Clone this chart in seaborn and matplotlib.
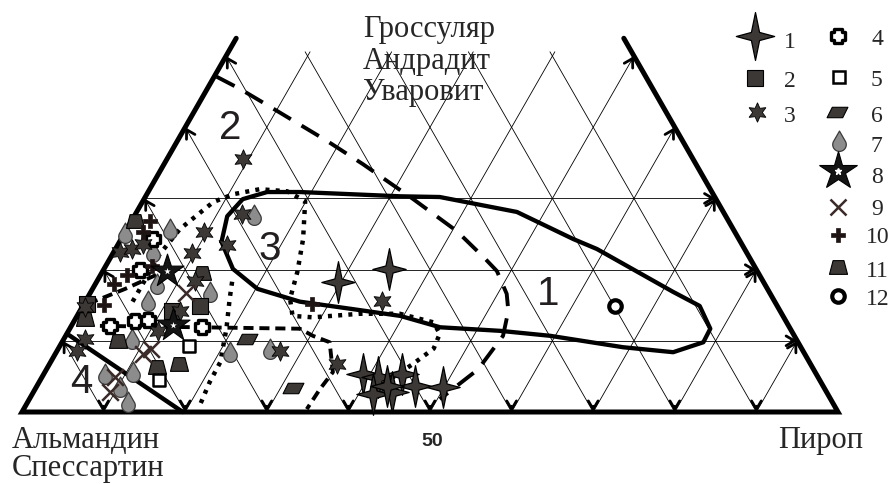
import numpy as np
import pandas as pd
import matplotlib
matplotlib.use("Agg")
import matplotlib.pyplot as plt
from matplotlib.path import Path
from matplotlib.markers import MarkerStyle
import seaborn as sns

# составы гранатов: пироп (%) и гроссуляр+андрадит+уваровит (%), остальное альмандин+спессартин
p1 = [29.6, 34.9, 39.1, 41.2, 43.9, 46.3, 43.9, 41.8, 49.8, 42.9]
g1 = [18.3, 20.1, 5.3, 4.9, 5.3, 3.7, 2.8, 2.5, 3.5, 3.7]
p2 = [0.4, 14.4, 11.3]
g2 = [15.2, 14.9, 14.2]
p3 = [9.3, 13.1, 9.7, 13.4, 9.7, 36.3, 35.2, 27.3, 2.6, 2.4, 0.3, 0.8, 2.0, 3.0, 11.0, 12.0, 12.3]
g3 = [35.5, 27.8, 25.3, 23.5, 22.3, 15.6, 6.7, 8.6, 10.3, 8.6, 14.8, 22.5, 22.9, 23.6, 11.4, 18.4, 14.2]
p4 = [3.9, 4.5, 4.7, 7.4, 9.0, 16.1]
g4 = [24.3, 19.9, 12.1, 12.8, 12.9, 11.9]
p5 = [15.8, 14.5]
g5 = [9.3, 4.5]
p6 = [22.4, 31.5]
g6 = [10.3, 3.4]
p7 = [0.1, 5.3, 14.6, 4.8, 7.5, 7.6, 14.6, 21.3, 26.0, 8.3, 7.5, 10.8, 10.3, 12.3]
g7 = [25.1, 25.7, 27.7, 22.5, 18.0, 15.6, 16.9, 8.4, 8.9, 10.3, 5.3, 5.6, 3.5, 1.4]
p8 = [7.9, 12.4]
g8 = [19.8, 12.2]
p9 = [11.8, 10.8, 11.3, 9.0, 9.4]
g9 = [16.7, 8.1, 8.9, 4.9, 2.8]
p10 = [2.3, 2.2, 3.3, 2.3, 2.5, 27.9, 5.7]
g10 = [26.8, 25.3, 19.2, 18.0, 15.0, 15.2, 20.5]
p11 = [0.4, 12.3, 1.2, 6.8, 13.4, 15.9]
g11 = [26.8, 19.5, 13.1, 10.0, 6.3, 6.7]
p12 = [65.2]
g12 = [14.9]

# контуры полей
c1_p = [12.5, 11.4, 12.1, 14.6, 18.6, 31.2, 36.1, 46.6, 55.4, 59.0, 71.3, 75.6, 78.5, 78.6,
        75.6, 69.1, 59.4, 52.9, 45.3, 39.6, 33.0, 26.3, 20.2, 15.8, 12.5]
c1_g = [23.9, 27.5, 29.9, 30.9, 30.9, 30.3, 30.2, 28.1, 24.3, 22.9, 16.9, 14.9, 11.7, 9.8,
        8.4, 9.1, 10.7, 11.4, 11.9, 13.5, 14.5, 15.5, 17.3, 20.1, 23.9]
c2_p = [0.3, 4.0, 10.1, 18.3, 24.4, 33.0, 40.6, 45.9, 48.3, 51.1, 52.5, 53.6, 52.9, 50.3]
c2_g = [47.1, 45.4, 42.3, 38.1, 34.8, 29.9, 25.4, 21.6, 19.8, 16.6, 14.2, 10.7, 6.0, 1.8]
c3_p = [5.8, 5.8, 6.5, 8.7, 10.6, 13.5, 17.0, 19.9, 22.3, 23.9, 24.9, 26.4, 29.0, 34.5,
        39.4, 44.1, 45.7, 46.0, 44.5, 42.8, 41.0]
c3_g = [15.5, 22.2, 25.7, 29.5, 30.6, 31.3, 31.0, 29.6, 24.3, 19.7, 15.9, 13.5, 13.3, 13.8,
        13.8, 12.6, 11.0, 8.9, 6.7, 4.6, 2.1]
c3b_p = [16.6, 17.5, 19.2, 20.8, 20.9, 21.3]
c3b_g = [18.3, 15.9, 11.7, 7.0, 4.2, 1.1]
c4_p = [0.0, 19.7]
c4_g = [11.0, 0.0]
c5_p = [3.5, 28.2, 30.3, 32.8, 35.3, 34.9, 34.7]
c5_g = [12.1, 11.7, 10.7, 9.8, 5.6, 3.2, 0.4]
c6_p = [0.5, 4.0, 7.6]
c6_g = [15.2, 17.3, 19.8]

grid_levels = [10, 20, 30, 40, 50, 60, 70, 80, 90]
hor_levels = [10, 20, 30]
top_cut = 50.6
edge_top = 52.5

sq3 = np.sqrt(3) / 2


def tern(p, g):
    p = np.asarray(p, float)
    g = np.asarray(g, float)
    return p + g / 2, g * sq3


def px(x, y):
    # пиксели картинки -> координаты осей
    return (x - 22) / 8.16, (413 - y) / 8.22


sns.set_style("white")
plt.rcParams['font.family'] = ['Liberation Serif', 'DejaVu Serif']

fig = plt.figure(figsize=(8.92, 4.85), dpi=100)
ax = fig.add_axes([0, 0, 1, 1])
ax.set_xlim(-22 / 8.16, (892 - 22) / 8.16)
ax.set_ylim((413 - 485) / 8.22, 413 / 8.22)
ax.axis('off')

# сетка
def arrow(x0, y0, x1, y1):
    ax.annotate("", xy=(x1, y1), xytext=(x0, y0),
                arrowprops=dict(arrowstyle="->,head_length=0.6,head_width=0.35",
                                lw=2.0, color='black', shrinkA=0, shrinkB=0),
                zorder=3)

for p in grid_levels:
    ge = 100 - p if p >= 50 else top_cut
    x, y = tern([p, p], [0, ge])
    ax.plot(x, y, color='black', lw=0.6, zorder=1)
    if p >= 50:
        xa, ya = tern([p, p], [ge - 0.6, ge])
        arrow(xa[0], ya[0], xa[1], ya[1])
    ge = p if p <= 50 else top_cut
    x, y = tern([p, p - ge], [0, ge])
    ax.plot(x, y, color='black', lw=0.6, zorder=1)
    if p <= 50:
        xa, ya = tern([0.6, 0], [ge - 0.6, ge])
        arrow(xa[0], ya[0], xa[1], ya[1])
    arrow(p, 0.7, p, 0)

for g in hor_levels:
    x, y = tern([0, 100 - g], [g, g])
    ax.plot(x, y, color='black', lw=0.6, zorder=1)
    arrow(x[1] - 0.7, y[1], x[1], y[1])

x, y = tern([0, 0, 100, 100 - edge_top], [edge_top, 0, 0, edge_top])
ax.plot(x, y, color='black', lw=3.6, solid_joinstyle='miter', zorder=3)

# контуры
def contour(pp, gg, lw, ls):
    x, y = tern(pp, gg)
    sns.lineplot(x=x, y=y, sort=False, estimator=None, color='black', lw=lw,
                 linestyle=ls, ax=ax, legend=False, zorder=4)

contour(c1_p, c1_g, 3.1, '-')
contour(c2_p, c2_g, 2.8, (0, (5.2, 3.2)))
contour(c3_p, c3_g, 3.2, (0, (0.9, 1.4)))
contour(c3b_p, c3b_g, 3.2, (0, (0.9, 1.4)))
contour(c4_p, c4_g, 3.2, '-')
contour(c5_p, c5_g, 2.8, (0, (2.6, 1.5)))
contour(c6_p, c6_g, 2.8, (0, (2.6, 1.5)))

# маркеры
star4 = Path([(0, 1), (0.17, 0.17), (0.8, 0), (0.17, -0.17), (0, -1), (-0.17, -0.17),
              (-0.8, 0), (-0.17, 0.17), (0, 1)], closed=True)
t = np.radians(np.linspace(35, -215, 40))
drop = Path([(0, 1)] + list(zip(0.65 * np.cos(t), -0.3 + 0.65 * np.sin(t))) + [(0, 1)], closed=True)
para = Path([(-0.5, -0.25), (0.25, -0.25), (0.5, 0.25), (-0.25, 0.25), (-0.5, -0.25)], closed=True)
trap = Path([(-0.5, -0.38), (0.5, -0.38), (0.3, 0.38), (-0.3, 0.38), (-0.5, -0.38)], closed=True)
a, b = 0.5, 0.26
flower = Path([(-b, -a), (b, -a), (b, -b), (a, -b), (a, b), (b, b), (b, a), (-b, a),
               (-b, b), (-a, b), (-a, -b), (-b, -b), (-b, -a)], closed=True)

dark = '#3c3836'
styles = {
    1: dict(marker=star4, ms=30, fc=dark, ec='black', lw=0.9),
    2: dict(marker='s', ms=11, fc=dark, ec='black', lw=0.8),
    3: dict(marker=(6, 1, 0), ms=14, fc=dark, ec='black', lw=0.6),
    4: dict(marker=flower, ms=10.5, fc='white', ec='black', lw=2.4),
    5: dict(marker='s', ms=8, fc='white', ec='black', lw=1.8),
    6: dict(marker=para, ms=15, fc=dark, ec='black', lw=0.8),
    7: dict(marker=drop, ms=15, fc='#8c8c8c', ec='#3a3a3a', lw=0.9),
    8: dict(marker='*', ms=25, fc='#141414', ec='black', lw=0.8),
    9: dict(marker='x', ms=12, fc='#3a2a28', ec='#3a2a28', lw=1.8),
    10: dict(marker='P', ms=10.5, fc='#1e1414', ec='#1e1414', lw=0.5),
    11: dict(marker=trap, ms=13, fc=dark, ec='black', lw=0.8),
    12: dict(marker='o', ms=9, fc='white', ec='black', lw=3.0),
}
groups = {1: (p1, g1), 2: (p2, g2), 3: (p3, g3), 4: (p4, g4), 5: (p5, g5), 6: (p6, g6),
          7: (p7, g7), 8: (p8, g8), 9: (p9, g9), 10: (p10, g10), 11: (p11, g11), 12: (p12, g12)}

for k in [7, 11, 2, 6, 5, 4, 3, 10, 9, 8, 1, 12]:
    x, y = tern(*groups[k])
    st = styles[k]
    if st['marker'] == 'x':
        sns.scatterplot(x=x, y=y, marker='x', s=st['ms'] ** 2, color=st['ec'],
                        linewidth=st['lw'], ax=ax, legend=False, zorder=5)
    else:
        sns.scatterplot(x=x, y=y, marker=MarkerStyle(st['marker']), s=st['ms'] ** 2,
                        color=st['fc'], edgecolor=st['ec'], linewidth=st['lw'],
                        ax=ax, legend=False, zorder=5)
    if k == 8:
        sns.scatterplot(x=x, y=y, marker='*', s=25, color='white', edgecolor='white',
                        linewidth=0, ax=ax, legend=False, zorder=6)

# легенда
leg_pos = {1: (755, 37), 2: (755, 79), 3: (757, 113), 4: (838, 37), 5: (839, 78),
           6: (837, 113), 7: (839, 142), 8: (838, 172), 9: (838, 208), 10: (838, 236),
           11: (838, 268), 12: (838, 297)}
leg_scale = {1: 1.15, 8: 1.15}
for k, (lx, ly) in leg_pos.items():
    st = styles[k]
    xx, yy = px(lx, ly)
    m = st['marker']
    ax.plot([xx], [yy], marker=m, ms=st['ms'] * leg_scale.get(k, 1.0), mfc=st['fc'],
            mec=st['ec'], mew=st['lw'], ls='none', zorder=5)
    if k == 8:
        ax.plot([xx], [yy], marker='*', ms=5, mfc='white', mec='white', ls='none', zorder=6)
    tx = 784 if k <= 3 else (871 if k <= 9 else 866)
    ty = {1: 48, 2: 87, 3: 122, 4: 45, 5: 86, 6: 122, 7: 152, 8: 183, 9: 215,
          10: 243, 11: 277, 12: 305}[k]
    ax.text(tx / 892, 1 - ty / 485, str(k), transform=ax.transAxes, fontsize=17,
            ha='left', va='baseline')

# подписи
serif = dict(fontsize=22, ha='left', va='baseline', transform=ax.transAxes)
ax.text(363 / 892, 1 - 37 / 485, "Гроссуляр", **serif)
ax.text(363 / 892, 1 - 69 / 485, "Андрадит", **serif)
ax.text(363 / 892, 1 - 100 / 485, "Уваровит", **serif)
ax.text(12 / 892, 1 - 448 / 485, "Альмандин", **serif)
ax.text(12 / 892, 1 - 476 / 485, "Спессартин", **serif)
ax.text(778 / 892, 1 - 448 / 485, "Пироп", **serif)
ax.text(432 / 892, 1 - 446 / 485, "50", transform=ax.transAxes, fontsize=14,
        fontweight='bold', family=['Liberation Sans', 'DejaVu Sans'], ha='center', va='baseline')

sans = dict(fontsize=29, ha='center', va='center', transform=ax.transAxes,
            family=['Liberation Sans', 'DejaVu Sans'], color='#231f20')
for lab, (lx, ly) in {"1": (548, 294), "2": (230, 128), "3": (270, 249), "4": (81, 382)}.items():
    ax.text(lx / 892, 1 - ly / 485, lab, **sans)

fig.savefig("out.png", dpi=100)
